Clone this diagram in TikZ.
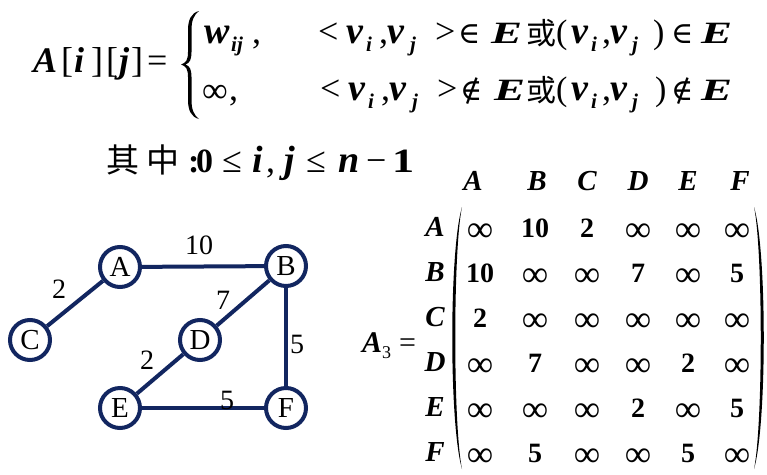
\documentclass[tikz,border=0pt]{standalone}
\usepackage{fontspec}
\setmainfont{Liberation Serif}
\newfontfamily\cjk{Noto Sans CJK SC}
\newfontfamily\symf{DejaVu Serif}
\definecolor{navy}{RGB}{18,38,96}
\newcommand{\bi}[1]{\textbf{\textit{#1}}}
\newcommand{\vin}{{\symf\char"2208}}
\newcommand{\vnotin}{{\symf\char"2209}}
\newcount\tkn
\newcommand{\tk}[4]{\global\advance\tkn by 1\relax
  \node[tok,font=\fontsize{#3}{#3}\selectfont] (t\the\tkn) at (#1,#2) {#4};}
\newcommand{\I}{\raisebox{-4pt}{\fontsize{37}{37}\selectfont\mdseries ∞}}
\begin{document}
\begin{tikzpicture}[x=1pt,y=-1pt,
  tok/.style={inner sep=0pt,anchor=base west},
  vtx/.style={circle,draw=navy,line width=4pt,fill=white,minimum size=40pt,inner sep=0pt,font=\fontsize{29}{29}\selectfont},
  edge/.style={draw=navy,line width=4pt},
  wlab/.style={font=\fontsize{28}{28}\selectfont,inner sep=0pt},
  ent/.style={font=\fontsize{28}{28}\selectfont\bfseries,inner sep=0pt,anchor=base},
  hdr/.style={font=\fontsize{29}{29}\selectfont\bfseries\itshape,inner sep=0pt}]
\useasboundingbox (0,0) rectangle (767,474);
% ---- left-hand side
\tk{33}{72}{36}{\bi{A}}
\tk{61}{72}{36}{[}
\tk{74}{72}{36}{\bi{i}}
\tk{91}{72}{36}{]}
\tk{106}{72}{36}{[}
\tk{119}{72}{36}{\bi{j}}
\tk{131}{72}{36}{]}
\tk{147}{72}{36}{=}
% brace
\fill[black] (199,11) .. controls (191,13) and (188,20) .. (188,30) -- (188,52) .. controls (188,60) and (186,63) .. (181,64.5) .. controls (186,66) and (188,69) .. (188,77) -- (188,100) .. controls (188,110) and (191,117) .. (199,119) .. controls (194,115) and (191.5,110) .. (191.5,100) -- (191.5,77) .. controls (191.5,70) and (190,66) .. (185.5,64.5) .. controls (190,63) and (191.5,59) .. (191.5,52) -- (191.5,30) .. controls (191.5,20) and (194,15) .. (199,11) -- cycle;
% ---- line 1
\tk{204}{43}{38}{\bi{w}}
\tk{231}{51}{21}{\bi{ij}}
\tk{252}{43}{36}{,}
\tk{318}{43}{36}{<}
\tk{346}{43}{38}{\bi{v}}
\tk{366}{51}{21}{\bi{i}}
\tk{379}{43}{36}{,}
\tk{387}{43}{38}{\bi{v}}
\tk{410}{51}{21}{\bi{j}}
\tk{435}{43}{36}{>}
\tk{458}{43}{30}{\vin}
\tk{491}{43}{31}{\scalebox{1.5}[1]{\bi{E}}}
\tk{526}{44}{30}{\cjk 或}
\tk{556}{43}{34}{(}
\tk{571}{43}{38}{\bi{v}}
\tk{591}{51}{21}{\bi{i}}
\tk{602}{43}{36}{,}
\tk{610}{43}{38}{\bi{v}}
\tk{632}{51}{21}{\bi{j}}
\tk{653}{43}{34}{)}
\tk{671}{43}{30}{\vin}
\tk{701}{43}{31}{\scalebox{1.5}[1]{\bi{E}}}
% ---- line 2
\tk{202}{102}{36}{∞}
\tk{229}{100}{36}{,}
\tk{320}{100}{36}{<}
\tk{348}{100}{38}{\bi{v}}
\tk{368}{108}{21}{\bi{i}}
\tk{381}{100}{36}{,}
\tk{389}{100}{38}{\bi{v}}
\tk{412}{108}{21}{\bi{j}}
\tk{437}{100}{36}{>}
\tk{460}{100}{30}{\vnotin}
\tk{494}{100}{31}{\scalebox{1.5}[1]{\bi{E}}}
\tk{526}{101}{30}{\cjk 或}
\tk{556}{100}{34}{(}
\tk{571}{100}{38}{\bi{v}}
\tk{591}{108}{21}{\bi{i}}
\tk{602}{100}{36}{,}
\tk{610}{100}{38}{\bi{v}}
\tk{632}{108}{21}{\bi{j}}
\tk{655}{100}{34}{)}
\tk{671}{100}{30}{\vnotin}
\tk{701}{100}{31}{\scalebox{1.5}[1]{\bi{E}}}
% ---- condition line
\tk{106}{172}{33}{\cjk 其}
\tk{146}{172}{33}{\cjk 中}
\tk{188}{172}{34}{\textbf{:}}
\tk{196}{172}{34}{\textbf{0}}
\tk{222}{172}{36}{≤}
\tk{252}{172}{38}{\bi{i}}
\tk{266}{172}{36}{,}
\tk{284}{172}{38}{\bi{j}}
\tk{306}{172}{36}{≤}
\tk{338}{172}{38}{\bi{n}}
\tk{366}{172}{36}{−}
\tk{392}{172}{34}{\scalebox{1.3}[1]{\textbf{1}}}
% ---- graph
\node[vtx] (A) at (120,267) {A};
\node[vtx] (B) at (286,266) {B};
\node[vtx] (C) at (30,340) {C};
\node[vtx] (D) at (200,340) {D};
\node[vtx] (E) at (120,408) {E};
\node[vtx] (F) at (286,408) {F};
\draw[edge] (A) -- (B);
\draw[edge] (A) -- (C);
\draw[edge] (B) -- (D);
\draw[edge] (B) -- (F);
\draw[edge] (D) -- (E);
\draw[edge] (E) -- (F);
\node[wlab] (lAB) at (199,245) {10};
\node[wlab] (lAC) at (59,289) {2};
\node[wlab] (lBD) at (223,300) {7};
\node[wlab] (lBF) at (297,344) {5};
\node[wlab] (lDE) at (147,360) {2};
\node[wlab] (lEF) at (227,400) {5};
% ---- matrix
\tk{362}{352}{30}{\bi{A}}
\tk{382}{358}{18}{3}
\tk{399}{352}{30}{=}
\foreach \n/\x in {A/473,B/537,C/587,D/638,E/688,F/740}
  \node[hdr] (h\n) at (\x,181) {\n};
\foreach \n/\y in {A/227,B/272,C/317,D/362,E/407,F/452}
  \node[hdr] (r\n) at (435,\y) {\n};
\def\rowA{\I,10,2,\I,\I,\I}
\def\rowB{10,\I,\I,7,\I,5}
\def\rowC{2,\I,\I,\I,\I,\I}
\def\rowD{\I,7,\I,\I,2,\I}
\def\rowE{\I,\I,\I,2,\I,5}
\def\rowF{\I,5,\I,\I,5,\I}
\foreach \r/\y in {A/237,B/282,C/327,D/372,E/417,F/462}{
  \expandafter\let\expandafter\cur\csname row\r\endcsname
  \foreach \v [count=\k] in \cur {
    \pgfmathsetmacro{\xx}{{480,535,587,638,688,737}[\k-1]}
    \node[ent] (m\r\k) at (\xx,\y) {\v};
  }
}
\fill[black] (462,207) .. controls (449,250) and (449,425) .. (462,469) .. controls (453,425) and (453,250) .. (462,207) -- cycle;
\fill[black] (754,207) .. controls (767,250) and (767,425) .. (754,469) .. controls (763,425) and (763,250) .. (754,207) -- cycle;
\end{tikzpicture}
\end{document}
